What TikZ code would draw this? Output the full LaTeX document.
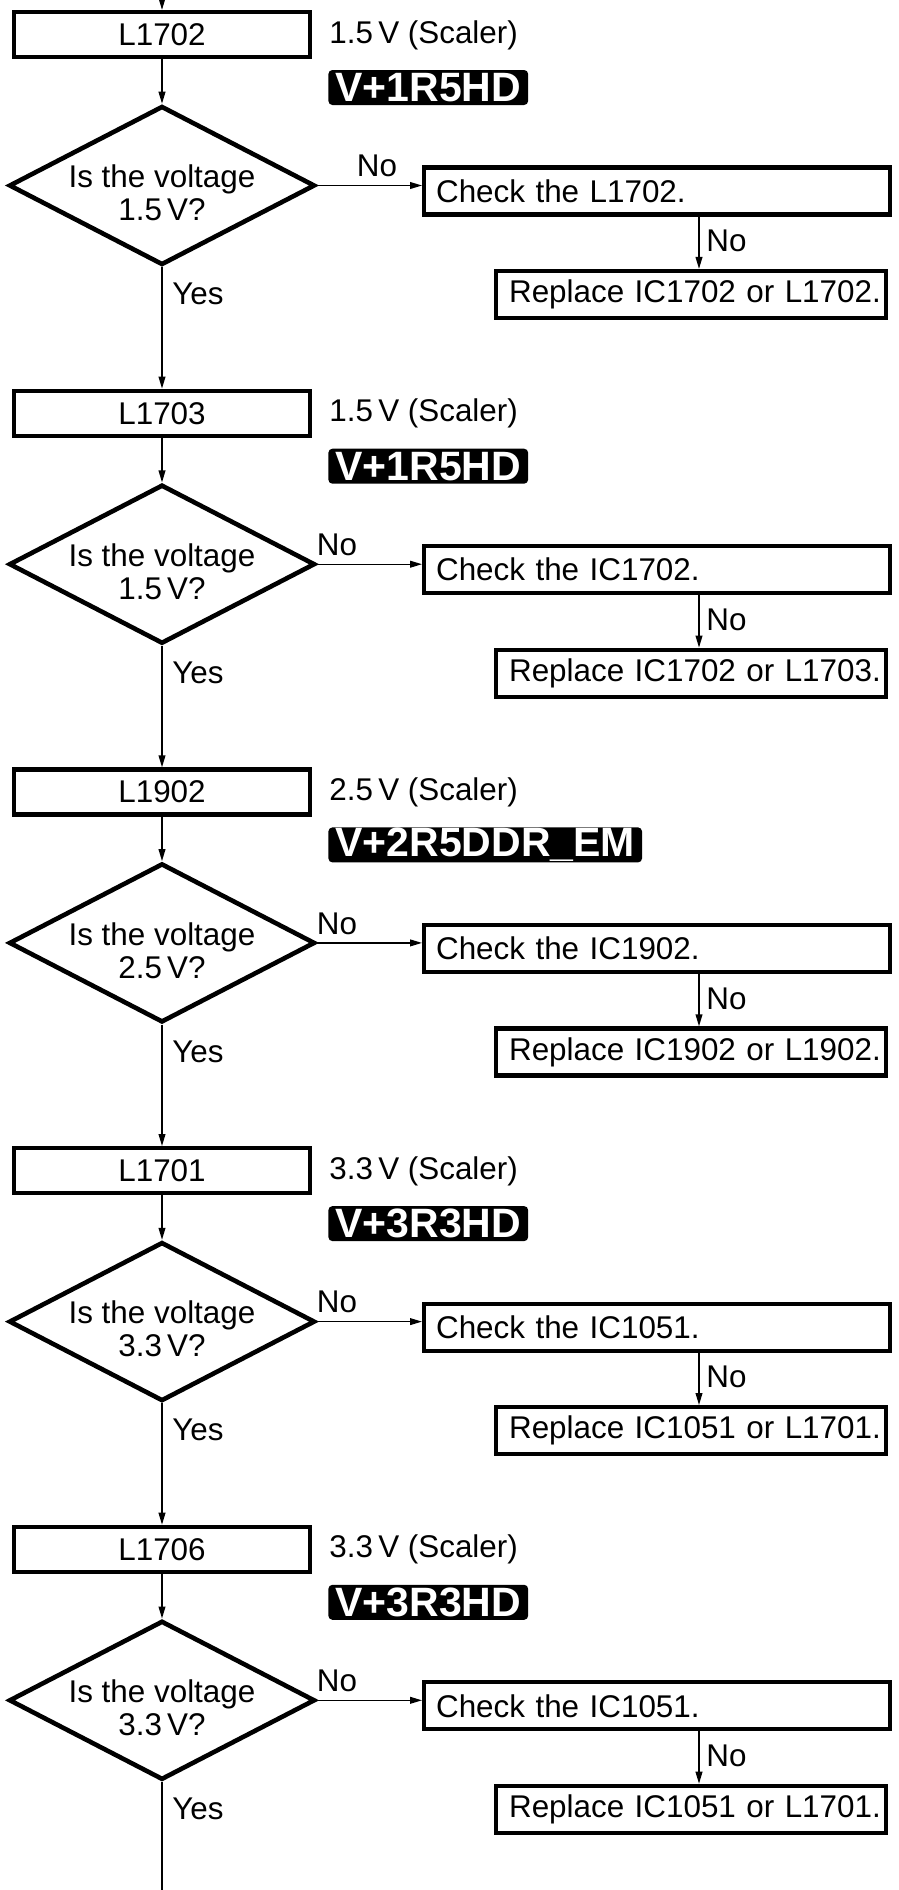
\documentclass[tikz,border=0pt]{standalone}
\usepackage{fontspec}
\setmainfont{Liberation Sans}
\usetikzlibrary{shapes.geometric,arrows.meta}
\begin{document}
\begin{tikzpicture}[x=0.5pt,y=-0.5pt,
  txt/.style={font=\fontsize{15.7}{16}\selectfont, inner sep=0pt},
  lbox/.style={draw, line width=2.1pt, minimum width=148pt, minimum height=22.5pt, inner sep=0pt, font=\fontsize{15.7}{16}\selectfont},
  chkbox/.style={draw, line width=2.1pt, text width=221pt, align=left, inner xsep=6pt, inner ysep=0pt, minimum height=23.5pt, font=\fontsize{15.7}{16}\selectfont},
  repbox/.style={draw, line width=2.1pt, text width=190pt, align=right, inner xsep=2.5pt, inner ysep=0pt, minimum height=23.5pt, font=\fontsize{15.7}{16}\selectfont},
  dmd/.style={diamond, draw, line width=2.3pt, minimum width=153pt, minimum height=79.5pt, inner sep=0pt},
  qtext/.style={align=center, inner sep=0pt, font=\fontsize{15.7}{16.5}\selectfont},
  tag/.style={fill=black, text=white, rounded corners=2pt, font=\bfseries\fontsize{20.5}{20.5}\selectfont, inner xsep=3.5pt, inner ysep=0pt, minimum height=17.5pt},
  conn/.style={line width=0.7pt, -{Triangle[length=6pt,width=3.4pt]}},
  plain/.style={line width=0.7pt}
]
\useasboundingbox (0,0) rectangle (899,1890);
\coordinate (top) at (162,0);
\coordinate (bot) at (162,1890);
\foreach \i/\lab/\volt/\tg/\chk/\rep/\nx in {
 0/L1702/1.5/V+1R5HD/L1702/IC1702 or L1702/377,
 1/L1703/1.5/V+1R5HD/IC1702/IC1702 or L1703/337,
 2/L1902/2.5/V+2R5DDR\_EM/IC1902/IC1902 or L1902/337,
 3/L1701/3.3/V+3R3HD/IC1051/IC1051 or L1701/337,
 4/L1706/3.3/V+3R3HD/IC1051/IC1051 or L1701/337}
{
  \pgfmathsetmacro\o{378.7*\i}
  \node[lbox] (b\i) at (162, 34.5+\o) {\lab};
  \node[txt, anchor=west] (v\i) at (329, 35+\o) {\volt\,V (Scaler)};
  \node[tag, anchor=west] (t\i) at (328, 87.5+\o) {\tg};
  \node[dmd] (d\i) at (162, 185.5+\o) {};
  \node[qtext] (q\i) at (162, 193+\o) {Is the voltage\\\volt\,V?};
  \node[txt] (n\i) at (\nx, 166+\o) {No};
  \node[chkbox, anchor=west] (c\i) at (422, 191+\o) {Check the \chk.};
  \coordinate (a\i) at (699, 250+\o);
  \node[txt, anchor=west] (m\i) at (706, 241+\o) {No};
  \node[repbox, anchor=east] (r\i) at (888, 294.5+\o) {Replace \rep.};
  \node[txt, anchor=west] (y\i) at (172, 294+\o) {Yes};
  \draw[conn] (b\i) -- (d\i);
  \draw[conn] (d\i.east) -- (d\i.east -| c\i.west);
  \draw[conn] (c\i.south -| a\i) -- (r\i.north -| a\i);
}
\draw[conn] (top) -- (b0);
\foreach \i/\j in {0/1,1/2,2/3,3/4} { \draw[conn] (d\i) -- (b\j); }
\draw[plain] (d4) -- (bot);
\end{tikzpicture}
\end{document}
